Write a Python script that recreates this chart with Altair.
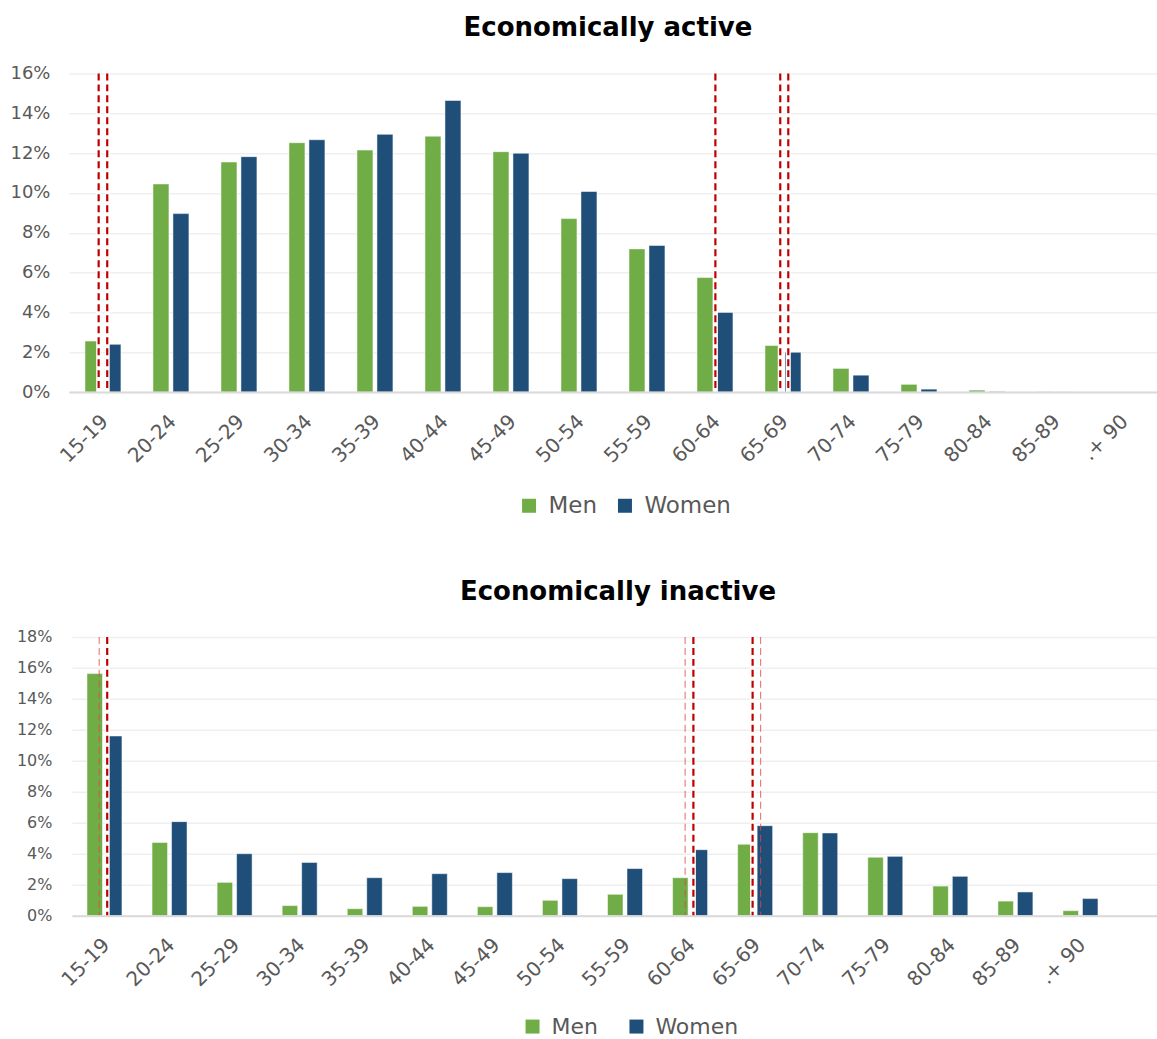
import altair as alt
import pandas as pd

# Age bands shared by both panels
age_groups = ["15-19", "20-24", "25-29", "30-34", "35-39", "40-44", "45-49", "50-54",
              "55-59", "60-64", "65-69", "70-74", "75-79", "80-84", "85-89", ".+ 90"]
sexes = ["Men", "Women"]
sex_colors = ["#70AD47", "#1F4E79"]

# Share of each population by age band (%)
active_men = [2.56, 10.45, 11.55, 12.52, 12.15, 12.85, 12.07, 8.71, 7.19, 5.75, 2.34, 1.19, 0.39, 0.10, 0.02, 0.0]
active_women = [2.40, 8.96, 11.82, 12.67, 12.94, 14.64, 11.99, 10.07, 7.36, 4.00, 2.00, 0.85, 0.15, 0.03, 0.01, 0.0]
inactive_men = [15.63, 4.73, 2.15, 0.65, 0.45, 0.60, 0.58, 0.99, 1.38, 2.45, 4.61, 5.36, 3.77, 1.91, 0.94, 0.32]
inactive_women = [11.60, 6.07, 4.00, 3.44, 2.45, 2.71, 2.78, 2.39, 3.04, 4.26, 5.81, 5.34, 3.83, 2.54, 1.53, 1.10]

# Reference age markers: band, position inside the band, style
active_marker_age = ["15-19", "15-19", "60-64", "65-69", "65-69"]
active_marker_pos = [0.437, 0.563, 0.506, 0.460, 0.578]
active_marker_style = ["dark", "dark", "dark", "dark", "dark"]
inactive_marker_age = ["15-19", "15-19", "60-64", "60-64", "65-69", "65-69"]
inactive_marker_pos = [0.419, 0.542, 0.424, 0.551, 0.461, 0.584]
inactive_marker_style = ["light", "dark", "light", "dark", "dark", "light"]

FONT = "DejaVu Sans"
GREY = "#595959"


def panel(title, men, women, ymax, x_scale, plot_w, plot_h, offset_pad, marker_age, marker_pos,
          marker_style, ylabel_size, ylabel_pad, legend_x, legend_y, legend_gap, legend_size,
          title_dx, title_offset):
    df = pd.DataFrame({
        "age": age_groups * 2,
        "sex": ["Men"] * len(age_groups) + ["Women"] * len(age_groups),
        "share": men + women,
    })
    x_axis = alt.Axis(title=None, labelAngle=-45, labelAlign="right", labelBaseline="middle",
                      labelPadding=26, labelOffset=2, labelFontSize=20, labelFont=FONT,
                      labelColor=GREY, ticks=False, domainColor="#D9D9D9", domainWidth=2,
                      zindex=1)
    y_axis = alt.Axis(title=None, values=list(range(0, ymax + 1, 2)),
                      labelExpr="datum.value + '%'", labelFontSize=ylabel_size, labelFont=FONT,
                      labelColor=GREY, labelPadding=ylabel_pad, domain=False, ticks=False,
                      grid=True, gridColor="#EFEFEF", gridWidth=1.5)
    bars = alt.Chart(df).mark_bar(stroke="white", strokeOpacity=0.5, strokeWidth=1).encode(
        x=alt.X("age:N", scale=x_scale, sort=age_groups, axis=x_axis),
        xOffset=alt.XOffset("sex:N", scale=alt.Scale(domain=sexes, paddingInner=offset_pad[0],
                                                      paddingOuter=offset_pad[1])),
        y=alt.Y("share:Q", scale=alt.Scale(domain=[0, ymax], nice=False), axis=y_axis),
        color=alt.Color("sex:N", scale=alt.Scale(domain=sexes, range=sex_colors),
                        legend=alt.Legend(title=None, orient="none", legendX=legend_x,
                                          legendY=legend_y, direction="horizontal",
                                          symbolType="square", symbolSize=196,
                                          symbolStrokeWidth=0, labelFontSize=legend_size,
                                          labelFont=FONT, labelColor=GREY, labelOffset=8,
                                          columnPadding=legend_gap, padding=0)),
    )
    layers = [bars]
    # white gaps behind the bold markers
    for age, pos, style in zip(marker_age, marker_pos, marker_style):
        if style != "dark":
            continue
        d = pd.DataFrame({"age": [age]})
        layers.append(alt.Chart(d).mark_rule(color="white", strokeWidth=5).encode(
            x=alt.X("age:N", scale=x_scale, bandPosition=pos)))
    # dashed markers
    for age, pos, style in zip(marker_age, marker_pos, marker_style):
        d = pd.DataFrame({"age": [age]})
        if style == "dark":
            mk = alt.Chart(d).mark_rule(color="#C00000", strokeWidth=2.2, strokeDash=[7, 4])
        else:
            mk = alt.Chart(d).mark_rule(color="#E04848", strokeWidth=1.1, strokeDash=[7, 4],
                                        opacity=0.75)
        layers.append(mk.encode(x=alt.X("age:N", scale=x_scale, bandPosition=pos)))
    return alt.layer(*layers).properties(
        width=plot_w, height=plot_h,
        title=alt.TitleParams(text=title, fontSize=26, fontWeight="bold", font=FONT,
                              color="#000000", anchor="middle", offset=title_offset,
                              dx=title_dx),
    )


top_x = alt.Scale(domain=age_groups, paddingInner=0, paddingOuter=0)
bottom_x = alt.Scale(domain=age_groups, range=[3, 1089], paddingInner=0, paddingOuter=0.338,
                     align=0)

top = panel("Economically active", active_men, active_women, 16, top_x, 1089, 319,
            (0.2, 0.8015), active_marker_age, active_marker_pos, active_marker_style,
            18, 19, 449, 421, 16, 23, -5, 23)
bottom = panel("Economically inactive", inactive_men, inactive_women, 18, bottom_x, 1089, 279,
               (0.205, 0.772), inactive_marker_age, inactive_marker_pos, inactive_marker_style,
               16, 17, 453, 379, 27, 22, 5, 24)

chart = alt.vconcat(top, bottom, spacing=245, bounds="flush").resolve_scale(
    x="independent", y="independent", color="independent", xOffset="independent"
).resolve_legend(color="independent").properties(
    padding={"left": 9, "top": 15, "right": 0, "bottom": 0}
).configure_view(stroke=None)

chart.save("out.html", embed_options={"renderer": "svg", "actions": False})
